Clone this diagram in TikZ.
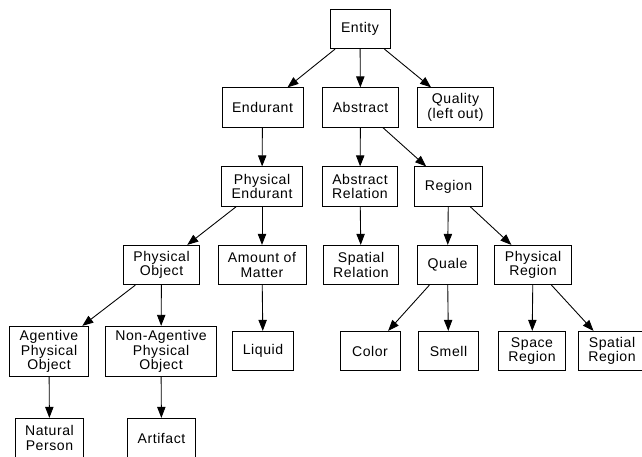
\documentclass[tikz,border=0pt]{standalone}
\usepackage{fontspec}
\setmainfont{Liberation Sans}[LetterSpace=4]
\usepackage{tikz}
\usetikzlibrary{positioning, arrows.meta}

\begin{document}
\begin{tikzpicture}[
  >={Triangle[length=0.33cm, width=0.25cm]},
  box/.style={draw, line width=0.75pt, minimum width=1.8cm, minimum height=1.18cm, inner xsep=0.3cm, inner ysep=0.12cm, align=center, font=\fontsize{12}{12.5}\selectfont},
  flow/.style={->, line width=0.75pt}
]
  \useasboundingbox (0,0) rectangle (19.26,-13.68);

  %---------------- TOP LEVELS ----------------%
  \node[box] (entity) at (10.80, -0.87) {Entity};

  \node[box] (endurant) at (7.875, -3.225) {Endurant};
  \node[box] (abstract) at (10.815, -3.225) {Abstract};
  \node[box] (quality) at (13.665, -3.225) {Quality\\(left out)};

  \node[box] (physend) at (7.86, -5.595) {Physical\\Endurant};
  \node[box] (absrel) at (10.80, -5.595) {Abstract\\Relation};
  \node[box] (region) at (13.455, -5.595) {Region};

  %---------------- LOWER LEVELS ----------------%
  \node[box] (physobj) at (4.845, -7.95) {Physical\\Object};
  \node[box] (matter) at (7.86, -7.95) {Amount of\\Matter};
  \node[box] (spatrel) at (10.83, -7.95) {Spatial\\Relation};
  \node[box] (quale) at (13.425, -7.95) {Quale};
  \node[box] (physreg) at (15.99, -7.95) {Physical\\Region};

  \node[box] (agentive) at (1.47, -10.545) {Agentive\\Physical\\Object};
  \node[box] (nonagentive) at (4.83, -10.545) {Non-Agentive\\Physical\\Object};
  \node[box] (liquid) at (7.89, -10.53) {Liquid};
  \node[box] (color) at (11.10, -10.53) {Color};
  \node[box] (smell) at (13.455, -10.53) {Smell};
  \node[box] (spacereg) at (15.96, -10.53) {Space\\Region};
  \node[box] (spatialreg) at (18.36, -10.53) {Spatial\\Region};

  \node[box] (person) at (1.485, -13.14) {Natural\\Person};
  \node[box] (artifact) at (4.845, -13.14) {Artifact};

  %---------------- EDGES ----------------%
  \draw[flow] (entity) -- (endurant);
  \draw[flow] (entity) -- (abstract);
  \draw[flow] (entity) -- (quality);
  \draw[flow] (endurant) -- (physend);
  \draw[flow] (abstract) -- (absrel);
  \draw[flow] (abstract) -- (region);
  \draw[flow] (physend) -- (physobj);
  \draw[flow] (physend) -- (matter);
  \draw[flow] (absrel) -- (spatrel);
  \draw[flow] (region) -- (quale);
  \draw[flow] (region) -- (physreg);
  \draw[flow] (physobj) -- (agentive);
  \draw[flow] (physobj) -- (nonagentive);
  \draw[flow] (matter) -- (liquid);
  \draw[flow] (quale) -- (color);
  \draw[flow] (quale) -- (smell);
  \draw[flow] (physreg) -- (spacereg);
  \draw[flow] (physreg) -- (spatialreg);
  \draw[flow] (agentive) -- (person);
  \draw[flow] (nonagentive) -- (artifact);

\end{tikzpicture}
\end{document}
